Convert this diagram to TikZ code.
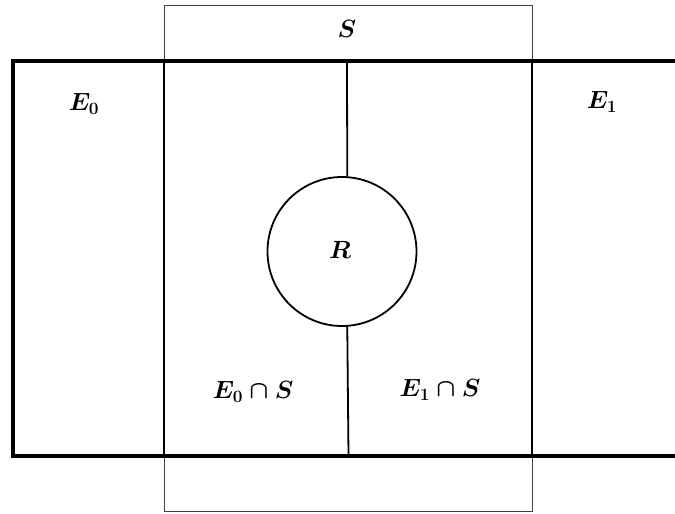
\documentclass[tikz,border=0pt]{standalone}
\usepackage{amsmath}
\usepackage{tikz}

\begin{document}
\begin{tikzpicture}[x=1pt, y=-1pt,
    thickline/.style={line width=3.6pt},
    midline/.style={line width=1.8pt},
    thinline/.style={line width=0.9pt, black!75},
    lbl/.style={font=\fontsize{24}{28}\selectfont\boldmath}]
    \useasboundingbox (0,0) rectangle (675,514);
    \clip (0,0) rectangle (675,514);

    % Set S (thin where it lies outside E_0 and E_1)
    \draw[thinline] (164,61) -- (164,5) -- (532,5) -- (532,61);
    \draw[thinline] (164,456) -- (164,511) -- (532,511) -- (532,456);
    \draw[midline] (164,61) -- (164,456);
    \draw[midline] (532,61) -- (532,456);

    % E_0 and E_1 (the box runs on past the right edge)
    \draw[thickline] (680,61) -- (13,61) -- (13,456) -- (680,456);

    % Region R
    \node[draw, circle, midline, minimum size=149pt, inner sep=0pt] (R) at (342,251.5) {};
    \node[lbl] (rlbl) at (340,250) {$R$};

    % Split between E_0 and E_1
    \coordinate (ctop) at (347,61);
    \coordinate (cbot) at (348.5,456);
    \draw[midline] (ctop) -- (R.86);
    \draw[midline] (R.-86) -- (cbot);

    % Labels
    \node[lbl] (s) at (347,29) {$S$};
    \node[lbl] (e0) at (84,104) {$E_0$};
    \node[lbl] (e1) at (602,102) {$E_1$};
    \node[lbl] (e0s) at (253,392) {$E_0\cap S$};
    \node[lbl] (e1s) at (440,390) {$E_1\cap S$};
\end{tikzpicture}
\end{document}
